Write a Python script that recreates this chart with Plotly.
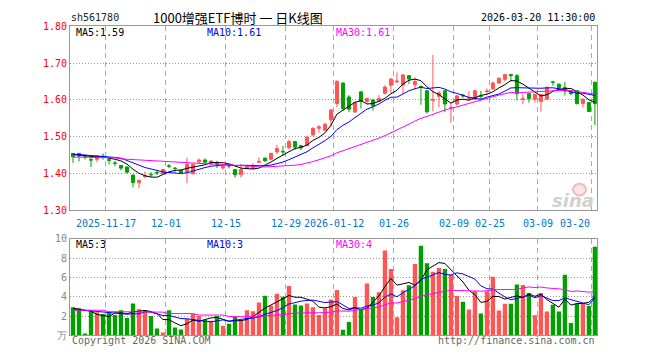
import plotly.graph_objects as go
import numpy as np
import pandas as pd

# ---------------- data ----------------
dates = (
    ["2025-11-07", "2025-11-10", "2025-11-11", "2025-11-12", "2025-11-13", "2025-11-14",
     "2025-11-17", "2025-11-18", "2025-11-19", "2025-11-20", "2025-11-21",
     "2025-11-24", "2025-11-25", "2025-11-26", "2025-11-27", "2025-11-28",
     "2025-12-01", "2025-12-02", "2025-12-03", "2025-12-04", "2025-12-05",
     "2025-12-08", "2025-12-09", "2025-12-10", "2025-12-11", "2025-12-12",
     "2025-12-15", "2025-12-16", "2025-12-17", "2025-12-18", "2025-12-19",
     "2025-12-22", "2025-12-23", "2025-12-24", "2025-12-25", "2025-12-26",
     "2025-12-29", "2025-12-30", "2025-12-31",
     "2026-01-05", "2026-01-06", "2026-01-07", "2026-01-08", "2026-01-09",
     "2026-01-12", "2026-01-13", "2026-01-14", "2026-01-15", "2026-01-16",
     "2026-01-19", "2026-01-20", "2026-01-21", "2026-01-22", "2026-01-23",
     "2026-01-26", "2026-01-27", "2026-01-28", "2026-01-29", "2026-01-30",
     "2026-02-02", "2026-02-03", "2026-02-04", "2026-02-05", "2026-02-06",
     "2026-02-09", "2026-02-10", "2026-02-11", "2026-02-12", "2026-02-13",
     "2026-02-24", "2026-02-25", "2026-02-26", "2026-02-27",
     "2026-03-02", "2026-03-03", "2026-03-04", "2026-03-05", "2026-03-06",
     "2026-03-09", "2026-03-10", "2026-03-11", "2026-03-12", "2026-03-13",
     "2026-03-16", "2026-03-17", "2026-03-18", "2026-03-19", "2026-03-20"]
)

open_ = [1.455, 1.455, 1.449, 1.438, 1.439, 1.447, 1.438, 1.429, 1.422, 1.418,
         1.396, 1.375, 1.391, 1.398, 1.403, 1.400, 1.421, 1.415, 1.409, 1.404,
         1.400, 1.432, 1.437, 1.427, 1.427, 1.415, 1.422, 1.411, 1.397, 1.415,
         1.414, 1.431, 1.442, 1.439, 1.459, 1.460, 1.470, 1.487, 1.476, 1.476,
         1.505, 1.523, 1.518, 1.546, 1.590, 1.646, 1.608, 1.567, 1.622, 1.596,
         1.600, 1.596, 1.618, 1.640, 1.649, 1.641, 1.666, 1.641, 1.637, 1.625,
         1.599, 1.610, 1.625, 1.579, 1.589, 1.613, 1.603, 1.602, 1.611, 1.623,
         1.630, 1.646, 1.656, 1.669, 1.666, 1.601, 1.617, 1.602, 1.596, 1.602,
         1.649, 1.643, 1.634, 1.624, 1.625, 1.590, 1.593, 1.648]
high = [1.456, 1.456, 1.452, 1.448, 1.450, 1.455, 1.444, 1.435, 1.423, 1.419,
        1.397, 1.383, 1.406, 1.404, 1.409, 1.413, 1.426, 1.418, 1.410, 1.443,
        1.427, 1.441, 1.441, 1.436, 1.435, 1.424, 1.427, 1.412, 1.426, 1.424,
        1.429, 1.444, 1.444, 1.456, 1.478, 1.475, 1.492, 1.488, 1.478, 1.503,
        1.526, 1.532, 1.538, 1.575, 1.654, 1.647, 1.613, 1.595, 1.623, 1.606,
        1.602, 1.613, 1.640, 1.659, 1.675, 1.670, 1.667, 1.661, 1.638, 1.626,
        1.722, 1.625, 1.627, 1.593, 1.613, 1.617, 1.624, 1.628, 1.625, 1.631,
        1.650, 1.661, 1.670, 1.670, 1.670, 1.615, 1.618, 1.616, 1.617, 1.637,
        1.652, 1.644, 1.649, 1.625, 1.626, 1.604, 1.594, 1.650]
low = [1.429, 1.433, 1.438, 1.418, 1.431, 1.438, 1.425, 1.420, 1.409, 1.400,
       1.362, 1.360, 1.389, 1.391, 1.396, 1.399, 1.415, 1.404, 1.401, 1.374,
       1.397, 1.429, 1.429, 1.422, 1.415, 1.412, 1.414, 1.389, 1.389, 1.413,
       1.413, 1.429, 1.432, 1.436, 1.453, 1.448, 1.466, 1.464, 1.464, 1.475,
       1.503, 1.511, 1.516, 1.527, 1.580, 1.571, 1.567, 1.566, 1.577, 1.590,
       1.571, 1.595, 1.615, 1.619, 1.646, 1.617, 1.643, 1.628, 1.587, 1.563,
       1.569, 1.580, 1.567, 1.538, 1.585, 1.606, 1.597, 1.600, 1.599, 1.615,
       1.628, 1.643, 1.650, 1.650, 1.599, 1.589, 1.593, 1.593, 1.568, 1.600,
       1.639, 1.628, 1.612, 1.613, 1.588, 1.580, 1.567, 1.532]
close = [1.446, 1.448, 1.447, 1.437, 1.448, 1.446, 1.436, 1.428, 1.415, 1.404,
         1.376, 1.382, 1.394, 1.397, 1.402, 1.411, 1.420, 1.414, 1.402, 1.425,
         1.425, 1.437, 1.431, 1.434, 1.426, 1.420, 1.421, 1.397, 1.411, 1.418,
         1.416, 1.433, 1.435, 1.455, 1.468, 1.459, 1.487, 1.472, 1.470, 1.499,
         1.523, 1.527, 1.534, 1.573, 1.650, 1.577, 1.575, 1.593, 1.596, 1.604,
         1.584, 1.604, 1.635, 1.657, 1.651, 1.668, 1.657, 1.650, 1.636, 1.568,
         1.601, 1.619, 1.589, 1.580, 1.611, 1.611, 1.606, 1.625, 1.610, 1.624,
         1.646, 1.659, 1.669, 1.666, 1.617, 1.603, 1.604, 1.615, 1.615, 1.634,
         1.648, 1.634, 1.624, 1.617, 1.590, 1.602, 1.569, 1.590]

# volume (unit: 万)
volume = [2.9, 2.8, 0.2, 2.5, 2.4, 2.2, 2.4, 2.1, 2.6, 1.8,
          3.3, 2.7, 2.5, 2.0, 0.7, 0.3, 2.6, 0.8, 0.6, 1.7,
          2.2, 2.0, 1.6, 1.5, 2.0, 1.0, 1.2, 1.9, 1.5, 2.6,
          2.5, 3.4, 4.1, 3.1, 4.3, 4.0, 5.1, 3.2, 3.1, 3.3,
          2.9, 2.1, 2.8, 3.7, 4.7, 0.57, 1.37, 3.97, 2.67, 5.37,
          3.97, 4.47, 8.77, 6.87, 1.87, 4.67, 5.17, 7.37, 9.27, 7.47,
          6.57, 6.97, 6.87, 6.23, 4.07, 3.47, 2.67, 4.57, 2.27, 4.57,
          6.07, 2.57, 3.27, 3.27, 5.27, 5.2, 4.37, 2.07, 4.37, 2.47,
          3.17, 2.47, 6.27, 1.27, 3.27, 3.27, 3.03, 9.17]

# moving-average values for days whose window starts before the first candle
price_ma5_lead = [1.452, 1.450, 1.449, 1.446]
price_ma10_lead = [1.453, 1.452, 1.451, 1.449, 1.448, 1.447, 1.446, 1.444, 1.442]
price_ma30_lead = [1.445, 1.445, 1.445, 1.444, 1.444, 1.444, 1.444, 1.443,
                   1.440, 1.439, 1.439, 1.437, 1.436, 1.435, 1.434, 1.433,
                   1.431, 1.430, 1.430, 1.429, 1.429, 1.428,
                   1.427, 1.426, 1.426, 1.425, 1.424, 1.421, 1.420]
vol_ma5_lead = [2.8, 2.7, 2.6, 2.5]
vol_ma10_lead = [2.7, 2.65, 2.55, 2.5, 2.45, 2.4, 2.35, 2.3, 2.3]
vol_ma30_lead = [2.6] * 6 + [2.45] * 5 + [2.4] * 5 + [2.25] * 5 + [2.1] * 5 + [1.95] * 3

tick_dates = ["2025-11-17", "2025-12-01", "2025-12-15", "2025-12-29", "2026-01-12",
              "2026-01-26", "2026-02-09", "2026-02-25", "2026-03-09", "2026-03-20"]
tick_text = ["2025-11-17", "12-01", "12-15", "12-29", "2026-01-12",
             "01-26", "02-09", "02-25", "03-09", "03-20"]
price_ticks = [1.30, 1.40, 1.50, 1.60, 1.70, 1.80]
vol_ticks = [0, 2, 4, 6, 8, 10]
vol_tick_text = ["万", "2", "4", "6", "8", "10"]

symbol = "sh561780"
title = "1000增强ETF博时 一 日K线图"
stamp = "2026-03-20 11:30:00"
price_ma_labels = ["MA5:1.59", "MA10:1.61", "MA30:1.61"]
vol_ma_labels = ["MA5:3", "MA10:3", "MA30:4"]

# ---------------- helpers ----------------
W, H = 660, 360
RED = "#ff5555"
GREEN = "#00a000"
MA_COLORS = ["#000000", "#0000ff", "#ff00ff"]
MONO = "DejaVu Sans Mono"


def ma(values, n, lead):
    s = pd.Series(values, dtype=float).rolling(n).mean().to_numpy()
    s[: n - 1] = lead
    return s


def px(x):
    return x / W


def py(y):
    return 1 - y / H


idx = np.arange(len(dates))
tick_pos = [dates.index(d) - 0.5 for d in tick_dates]
colors = [RED if c >= o else GREEN for o, c in zip(open_, close)]

X0, X1 = 70, 597
P_TOP, P_BOT = 21, 211.5
V_TOP, V_BOT = 240.7, 340.7

fig = go.Figure()

fig.add_trace(go.Candlestick(
    x=idx, open=open_, high=high, low=low, close=close,
    increasing=dict(line=dict(color=RED, width=1), fillcolor=RED),
    decreasing=dict(line=dict(color=GREEN, width=1), fillcolor=GREEN),
    whiskerwidth=0, xaxis="x", yaxis="y", showlegend=False, hoverinfo="skip",
))
for n, lead, col in zip([5, 10, 30], [price_ma5_lead, price_ma10_lead, price_ma30_lead], MA_COLORS):
    fig.add_trace(go.Scatter(x=idx, y=ma(close, n, lead), mode="lines",
                             line=dict(color=col, width=1), xaxis="x", yaxis="y",
                             showlegend=False, hoverinfo="skip"))

fig.add_trace(go.Bar(x=idx, y=volume, marker=dict(color=colors, line=dict(width=0)),
                     width=0.72, xaxis="x2", yaxis="y2", showlegend=False, hoverinfo="skip"))
for n, lead, col in zip([5, 10, 30], [vol_ma5_lead, vol_ma10_lead, vol_ma30_lead], MA_COLORS):
    fig.add_trace(go.Scatter(x=idx, y=ma(volume, n, lead), mode="lines",
                             line=dict(color=col, width=1), xaxis="x2", yaxis="y2",
                             showlegend=False, hoverinfo="skip"))

xcommon = dict(
    domain=[px(X0), px(X1)], range=[-0.5, len(dates) - 0.65],
    tickmode="array", tickvals=tick_pos, showticklabels=False, ticks="",
    showgrid=True, gridcolor="#aaaaaa", gridwidth=1, griddash="5px,4px",
    showline=True, mirror=True, linecolor="#999999", linewidth=1, zeroline=False,
    fixedrange=True,
)
ycommon = dict(
    showgrid=True, gridcolor="#999999", gridwidth=1, griddash="1px,2px",
    showline=True, mirror=True, linecolor="#999999", linewidth=1, zeroline=False,
    ticks="", tickmode="array", fixedrange=True,
)

fig.update_layout(
    width=W, height=H, margin=dict(l=0, r=0, t=0, b=0),
    paper_bgcolor="white", plot_bgcolor="white",
    boxgap=0.28, bargap=0.28,
    xaxis=dict(**xcommon, anchor="y", rangeslider=dict(visible=False)),
    xaxis2=dict(**xcommon, anchor="y2"),
    yaxis=dict(**ycommon, domain=[py(P_BOT), py(P_TOP)], range=[1.30, 1.80],
               tickvals=price_ticks, ticktext=[f"{v:.2f}" for v in price_ticks],
               tickfont=dict(family=MONO, size=10, color="#ff0000"), anchor="x"),
    yaxis2=dict(**ycommon, domain=[py(V_BOT), py(V_TOP)], range=[0, 10],
                tickvals=vol_ticks, ticktext=vol_tick_text,
                tickfont=dict(family=MONO, size=10, color="#888888"), anchor="x2"),
)

ann = []
ann.append(dict(text=symbol, x=px(69), y=py(12), xanchor="left", yanchor="middle",
                font=dict(family=MONO, size=10, color="#222222")))
ann.append(dict(text=title, x=px(238), y=py(12), xanchor="center", yanchor="middle",
                font=dict(family="Noto Sans CJK SC", size=13, color="#000000")))
ann.append(dict(text=stamp, x=px(597), y=py(12), xanchor="right", yanchor="middle",
                font=dict(family=MONO, size=10, color="#000000")))
for lab, xx, col in zip(price_ma_labels, [74, 205, 334], MA_COLORS):
    ann.append(dict(text=lab, x=px(xx), y=py(27), xanchor="left", yanchor="middle",
                    font=dict(family=MONO, size=10, color=col)))
for lab, xx, col in zip(vol_ma_labels, [74, 205, 334], MA_COLORS):
    ann.append(dict(text=lab, x=px(xx), y=py(247), xanchor="left", yanchor="middle",
                    font=dict(family=MONO, size=10, color=col)))
for i, (tp, tt) in enumerate(zip(tick_pos, tick_text)):
    last = i == len(tick_pos) - 1
    ann.append(dict(text=tt, x=tp, xref="x", y=py(225), yref="paper",
                    xanchor="right" if last else "center", yanchor="middle",
                    font=dict(family=MONO, size=10, color="#0077cc")))
ann.append(dict(text="Copyright 2026 SINA.COM", x=px(70), y=py(346), xanchor="left",
                yanchor="middle", font=dict(family=MONO, size=10, color="#666666")))
ann.append(dict(text="http://finance.sina.com.cn", x=px(597), y=py(346), xanchor="right",
                yanchor="middle", font=dict(family=MONO, size=10, color="#666666")))
ann.append(dict(text="<b><i>sina</i></b>", x=px(596), y=py(201), xanchor="right",
                yanchor="middle", font=dict(family="DejaVu Sans", size=18, color="#d0d0d0")))
for a in ann:
    a.setdefault("xref", "paper")
    a.setdefault("yref", "paper")
    a["showarrow"] = False
fig.update_layout(annotations=ann)

fig.add_shape(type="circle", xref="paper", yref="paper",
              x0=px(573), x1=px(586), y0=py(196), y1=py(184),
              line=dict(color="#f2b8b8", width=2), fillcolor="rgba(240,180,180,0.35)")

fig.write_html(
    "out.html",
    config={"displayModeBar": False, "staticPlot": True},
    post_script="document.body.style.margin='0px';document.body.style.padding='0px';",
)
